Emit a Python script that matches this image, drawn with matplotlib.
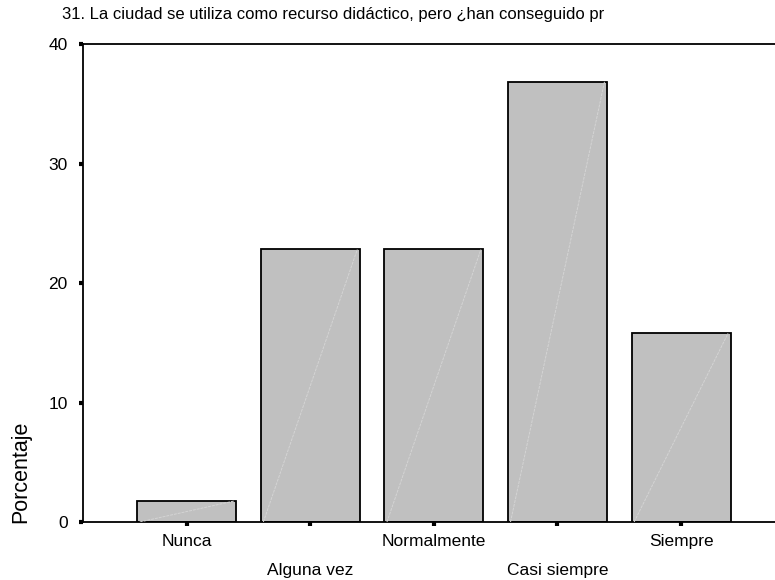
import matplotlib.pyplot as plt
import numpy as np

plt.rcParams['font.family'] = ['Liberation Sans', 'DejaVu Sans']

categories = ['Nunca', 'Alguna vez', 'Normalmente', 'Casi siempre', 'Siempre']
percent = [1.75, 22.81, 22.81, 36.84, 15.79]
title = '31. La ciudad se utiliza como recurso didáctico, pero ¿han conseguido pr'

fig = plt.figure(figsize=(7.75, 5.8), dpi=100)
ax = fig.add_axes([0.107, 0.1, 0.893, 0.824])

ind = np.arange(len(categories))
bars = ax.bar(ind, percent, 0.8, color='#c0c0c0', edgecolor='black', linewidth=1.3, zorder=2)

# faint diagonal inside each bar (SPSS artefact)
for b in bars:
    x0, y0 = b.get_x(), b.get_y()
    ax.plot([x0 + 0.02, x0 + b.get_width() - 0.02], [y0, y0 + b.get_height()],
            color='#d4d4d4', lw=0.7, ls=(0, (3, 1)), zorder=3)

ax.set_xlim(-0.84, 4.76)
ax.set_ylim(0, 40)
ax.set_yticks([0, 10, 20, 30, 40])
ax.set_xticks(ind)
ax.set_xticklabels([])
for i, c in enumerate(categories):
    ax.text(i, -1.65 if i % 2 == 0 else -4.05, c, ha='center', va='center', fontsize=12.5,
            transform=ax.transData, clip_on=False)

ax.tick_params(axis='both', length=3, width=3, direction='out', labelsize=12.5, pad=8)
ax.spines['right'].set_visible(False)
for s in ['left', 'top', 'bottom']:
    ax.spines[s].set_linewidth(1.3)

fig.text(0.027, 0.098, 'Porcentaje', rotation=90, ha='center', va='bottom', fontsize=15.5)
fig.text(0.08, 0.975, title, ha='left', va='center', fontsize=12)

fig.savefig('out.png', dpi=100)
